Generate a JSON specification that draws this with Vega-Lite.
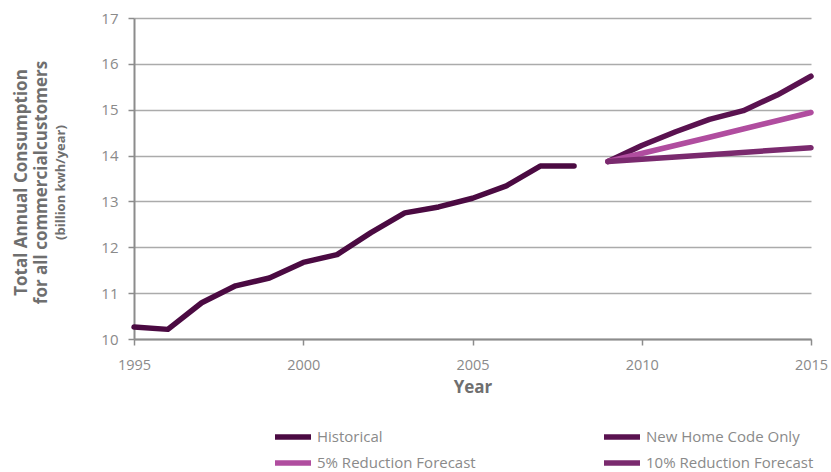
{
  "$schema": "https://vega.github.io/schema/vega-lite/v6.json",
  "autosize": {"type": "none"},
  "width": 677,
  "height": 321,
  "padding": {"left": 134, "top": 18, "right": 20, "bottom": 133},
  "background": "white",
  "config": {
    "font": "Open Sans",
    "view": {"stroke": null}
  },
  "data": {
    "values": [
      {"year": 1995, "value": 10.26, "series": "Historical"},
      {"year": 1996, "value": 10.21, "series": "Historical"},
      {"year": 1997, "value": 10.79, "series": "Historical"},
      {"year": 1998, "value": 11.16, "series": "Historical"},
      {"year": 1999, "value": 11.33, "series": "Historical"},
      {"year": 2000, "value": 11.67, "series": "Historical"},
      {"year": 2001, "value": 11.84, "series": "Historical"},
      {"year": 2002, "value": 12.32, "series": "Historical"},
      {"year": 2003, "value": 12.75, "series": "Historical"},
      {"year": 2004, "value": 12.88, "series": "Historical"},
      {"year": 2005, "value": 13.07, "series": "Historical"},
      {"year": 2006, "value": 13.34, "series": "Historical"},
      {"year": 2007, "value": 13.77, "series": "Historical"},
      {"year": 2008, "value": 13.77, "series": "Historical"},
      {"year": 2009, "value": 13.87, "series": "New Home Code Only"},
      {"year": 2010, "value": 14.22, "series": "New Home Code Only"},
      {"year": 2011, "value": 14.52, "series": "New Home Code Only"},
      {"year": 2012, "value": 14.79, "series": "New Home Code Only"},
      {"year": 2013, "value": 14.98, "series": "New Home Code Only"},
      {"year": 2014, "value": 15.32, "series": "New Home Code Only"},
      {"year": 2015, "value": 15.73, "series": "New Home Code Only"},
      {"year": 2009, "value": 13.87, "series": "5% Reduction Forecast"},
      {"year": 2012, "value": 14.40, "series": "5% Reduction Forecast"},
      {"year": 2015, "value": 14.94, "series": "5% Reduction Forecast"},
      {"year": 2009, "value": 13.87, "series": "10% Reduction Forecast"},
      {"year": 2012, "value": 14.02, "series": "10% Reduction Forecast"},
      {"year": 2015, "value": 14.17, "series": "10% Reduction Forecast"}
    ]
  },
  "resolve": {"scale": {"y": "shared"}, "axis": {"y": "independent"}},
  "layer": [
    {
      "mark": {"type": "line", "strokeWidth": 5.5, "strokeCap": "round", "strokeJoin": "round"},
      "encoding": {
        "x": {
          "field": "year",
          "type": "quantitative",
          "scale": {"domain": [1995, 2015], "nice": false, "zero": false},
          "axis": {
            "values": [1995, 2000, 2005, 2010, 2015],
            "format": "d",
            "grid": false,
            "domainColor": "#8c8c8c",
            "domainWidth": 2,
            "tickColor": "#8c8c8c",
            "tickWidth": 1.5,
            "tickSize": 6,
            "labelPadding": 13,
            "labelFontSize": 14.5,
            "labelColor": "#8a8a8a",
            "labelFlush": false,
            "title": "Year",
            "titleFontSize": 17,
            "titleFontWeight": "bold",
            "titleColor": "#6f6f6f",
            "titlePadding": 8
          }
        },
        "y": {
          "field": "value",
          "type": "quantitative",
          "scale": {"domain": [10, 17], "nice": false, "zero": false},
          "axis": {
            "values": [10, 11, 12, 13, 14, 15, 16, 17],
            "grid": true,
            "gridColor": "#ababab",
            "gridWidth": 1.5,
            "domainColor": "#8c8c8c",
            "domainWidth": 2,
            "tickColor": "#8c8c8c",
            "tickWidth": 1.5,
            "tickSize": 6,
            "labelPadding": 10,
            "labelFontSize": 15,
            "labelColor": "#8a8a8a",
            "title": ["Total Annual Consumption", "for all commercialcustomers"],
            "titleFontSize": 17,
            "titleFontWeight": "bold",
            "titleColor": "#6f6f6f",
            "titleLineHeight": 20,
            "titleX": -104,
            "titleY": 164,
            "titleAlign": "center"
          }
        },
        "color": {
          "field": "series",
          "type": "nominal",
          "scale": {
            "domain": ["Historical", "New Home Code Only", "5% Reduction Forecast", "10% Reduction Forecast"],
            "range": ["#4b0a42", "#5a1250", "#b04d9f", "#7a2a6e"]
          },
          "legend": {
            "orient": "none",
            "legendX": 147,
            "legendY": 407,
            "direction": "horizontal",
            "columns": 2,
            "title": null,
            "symbolType": "M-2,0H2",
            "symbolSize": 324,
            "symbolStrokeWidth": 5.5,
            "labelFontSize": 15,
            "labelColor": "#8a8a8a",
            "labelLimit": 0,
            "labelOffset": 12,
            "columnPadding": 117,
            "rowPadding": 3
          }
        },
        "order": {"field": "year", "type": "quantitative"}
      }
    },
    {
      "mark": {"type": "line", "opacity": 0},
      "encoding": {
        "x": {"field": "year", "type": "quantitative"},
        "y": {
          "field": "value",
          "type": "quantitative",
          "axis": {
            "orient": "left",
            "domain": false,
            "ticks": false,
            "labels": false,
            "grid": false,
            "title": "(billion kwh/year)",
            "titleFontSize": 13,
            "titleFontWeight": "bold",
            "titleColor": "#6f6f6f",
            "titleX": -67,
            "titleY": 164,
            "titleAlign": "center"
          }
        },
        "detail": {"field": "series", "type": "nominal"}
      }
    }
  ]
}
